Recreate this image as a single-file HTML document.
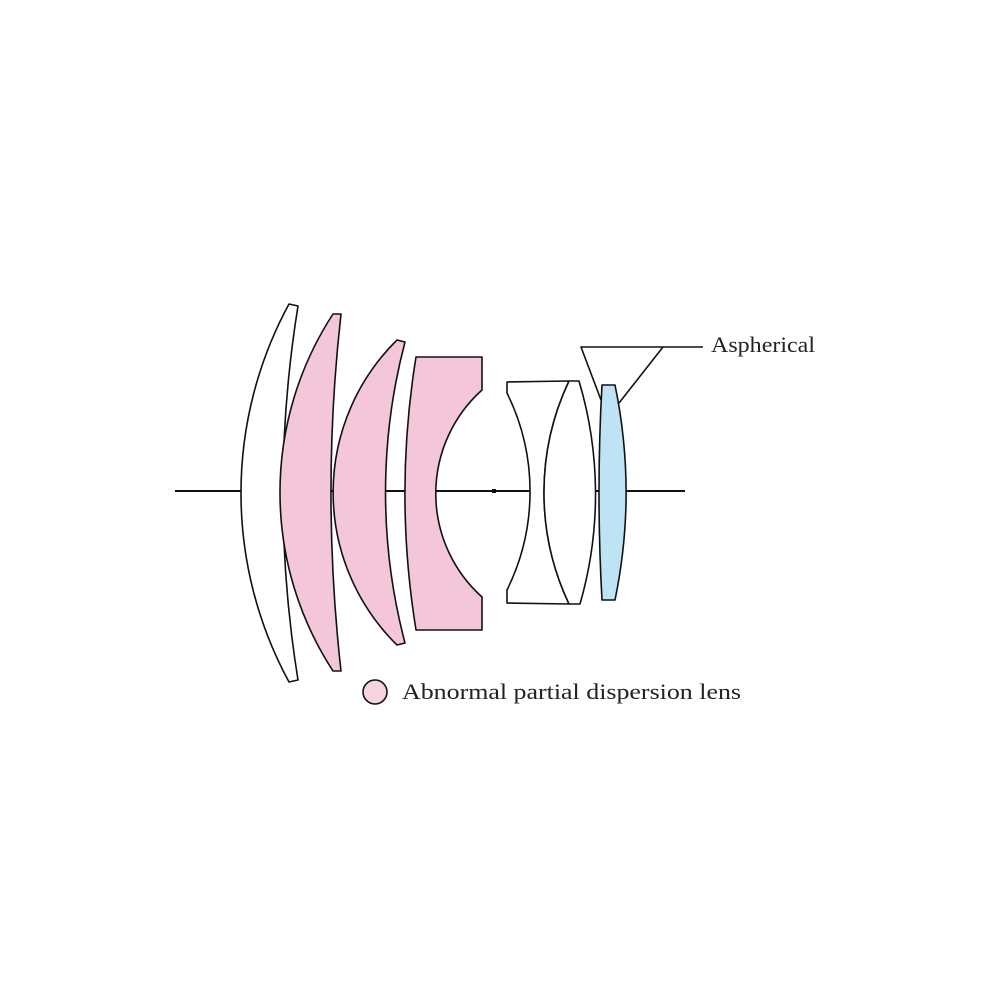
<!DOCTYPE html>
<html><head><style>html,body{margin:0;padding:0;background:#fff}</style></head>
<body>
<svg width="1000" height="1000" viewBox="0 0 1000 1000" xmlns="http://www.w3.org/2000/svg">
<g stroke="#111" stroke-width="1.6" stroke-linejoin="round">
<line x1="175" y1="491" x2="685" y2="491" stroke-width="2"/>
<rect x="492" y="489" width="4" height="4" fill="#111" stroke="none"/>
<!-- lens 1 -->
<path d="M289,304 L298,306 A1173,1173 0 0 0 298,680 L289,682 A396,396 0 0 1 289,304 Z" fill="#fff"/>
<!-- lens 2 -->
<path d="M333,314 L341,314 A1598,1598 0 0 0 341,671 L333,671 A327,327 0 0 1 333,314 Z" fill="#f4c6d9"/>
<!-- lens 3 -->
<path d="M397,340 L405,342 A591,591 0 0 0 405,643 L397,645 A214,214 0 0 1 397,340 Z" fill="#f4c6d9"/>
<!-- lens 4 -->
<path d="M416,357 L482,357 L482,390 A139,139 0 0 0 482,597 L482,630 L416,630 A852,852 0 0 1 416,357 Z" fill="#f4c6d9"/>
<!-- lens 5 -->
<path d="M507,382 L569,381 A261,261 0 0 0 569,604 L507,603 L507,590 A222,222 0 0 0 507,393 Z" fill="#fff"/>
<!-- lens 6 -->
<path d="M569,381 L579,381 A396,396 0 0 1 580,604 L569,604 A261,261 0 0 1 569,381 Z" fill="#fff"/>
<!-- blue -->
<path d="M602,385 L615,385 A531,531 0 0 1 615,600 L602,600 A1927,1927 0 0 1 602,385 Z" fill="#bde3f5"/>
<!-- leader -->
<polyline points="601,400 581,347 703,347" fill="none"/>
<line x1="663" y1="347" x2="619" y2="403"/>
<circle cx="375" cy="692" r="12" fill="#f7d3e2"/>
</g>
<g font-family="'Liberation Serif', serif" font-size="22" fill="#222">
<text x="711" y="352" textLength="104" lengthAdjust="spacingAndGlyphs">Aspherical</text>
<text x="402" y="699" textLength="339" lengthAdjust="spacingAndGlyphs">Abnormal partial dispersion lens</text>
</g>
</svg>
</body></html>
